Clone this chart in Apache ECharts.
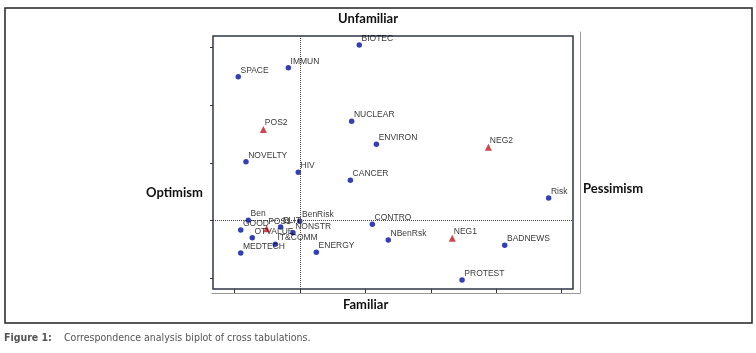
<!DOCTYPE html>
<html>
<head>
<meta charset="utf-8">
<script src="https://cdn.jsdelivr.net/npm/echarts@6/dist/echarts.min.js"></script>
<style>
html, body { margin: 0; padding: 0; background: #fff; }
#biplot { width: 756px; height: 353px; }
</style>
</head>
<body>
<div id="biplot"></div>
<script>
// column points (blue dots)
const blueNames = ['BIOTEC', 'IMMUN', 'SPACE', 'NUCLEAR', 'ENVIRON', 'CANCER', 'Risk', 'CONTRO',
  'NBenRsk', 'BADNEWS', 'PROTEST', 'NOVELTY', 'HIV', 'Ben', 'BenRisk', 'GOOD', 'ELIT',
  'OTVALUE', 'NONSTR', 'IT&COMM', 'MEDTECH', 'ENERGY']
const blueX = [0.453, -0.089, -0.472, 0.395, 0.584, 0.385, 1.901, 0.553,
  0.675, 1.565, 1.239, -0.413, -0.013, -0.395, -0.002, -0.453, -0.148,
  -0.365, -0.054, -0.189, -0.453, 0.125]
const blueY = [1.52, 1.324, 1.246, 0.86, 0.661, 0.349, 0.196, -0.031,
  -0.167, -0.213, -0.513, 0.51, 0.419, 0.003, -0.005, -0.08, -0.055,
  -0.147, -0.104, -0.204, -0.279, -0.273]

// row points (red triangles)
const redNames = ['POS2', 'NEG2', 'NEG1', 'POS1']
const redX = [-0.28, 1.44, 1.164, -0.255]
const redY = [0.79, 0.635, -0.152, -0.069]

const xTicks = [-0.5, 0, 0.5, 1, 1.5, 2]
const yTicks = [-0.5, 0, 0.5, 1, 1.5]

const chart = echarts.init(document.getElementById('biplot'))

const pointLabel = {
  show: true,
  formatter: '{b}',
  position: [5, -8],
  fontFamily: 'Liberation Sans, Arial, sans-serif',
  fontSize: 8.5,
  color: '#000'
}

chart.setOption({
  animation: false,
  backgroundColor: '#fff',
  grid: [
    {
      left: 213, right: 183, top: 36, bottom: 64,
      show: true, borderColor: '#2e3648', borderWidth: 1.5
    },
    {
      left: 212, right: 176, top: 32, bottom: 60
    }
  ],
  xAxis: [
    {
      type: 'value', gridIndex: 0, min: -0.665, max: 2.087,
      axisLine: { show: false, onZero: false },
      axisTick: { show: true, customValues: xTicks, length: 4, lineStyle: { color: '#333' } },
      axisLabel: { show: false },
      splitLine: { show: false }
    },
    {
      type: 'value', gridIndex: 1, min: 0, max: 1,
      axisLine: { show: true, onZero: false, lineStyle: { color: '#999', width: 1 } },
      axisTick: { show: false }, axisLabel: { show: false }, splitLine: { show: false }
    }
  ],
  yAxis: [
    {
      type: 'value', gridIndex: 0, min: -0.591, max: 1.598,
      axisLine: { show: false, onZero: false },
      axisTick: { show: true, customValues: yTicks, length: 3, lineStyle: { color: '#333' } },
      axisLabel: { show: false },
      splitLine: { show: false }
    },
    {
      type: 'value', gridIndex: 1, position: 'right', min: 0, max: 1,
      axisLine: { show: true, onZero: false, lineStyle: { color: '#999', width: 1 } },
      axisTick: { show: false }, axisLabel: { show: false }, splitLine: { show: false }
    }
  ],
  series: [
    {
      type: 'scatter',
      name: 'columns',
      symbol: 'circle',
      symbolSize: 5.5,
      itemStyle: { color: '#0010a0' },
      label: pointLabel,
      data: blueNames.map((n, i) => ({ name: n, value: [blueX[i], blueY[i]] })),
      markLine: {
        silent: true,
        symbol: ['none', 'none'],
        label: { show: false },
        lineStyle: { type: 'dotted', color: '#444', width: 1 },
        data: [{ xAxis: 0 }, { yAxis: 0 }]
      },
      z: 3
    },
    {
      type: 'scatter',
      name: 'rows',
      symbol: 'triangle',
      symbolSize: 7,
      itemStyle: { color: '#c8141c' },
      label: pointLabel,
      data: redNames.map((n, i) => ({ name: n, value: [redX[i], redY[i]] })),
      z: 3
    }
  ],
  graphic: [
    {
      type: 'rect',
      shape: { x: 5, y: 8, width: 747, height: 315 },
      style: { fill: 'none', stroke: '#222', lineWidth: 1.5 }
    },
    {
      type: 'text', left: 338, top: 12,
      style: { text: 'Unfamiliar', font: 'bold 13px Lato, "Open Sans", sans-serif', fill: '#111' }
    },
    {
      type: 'text', left: 343, top: 298,
      style: { text: 'Familiar', font: 'bold 13px Lato, "Open Sans", sans-serif', fill: '#111' }
    },
    {
      type: 'text', left: 146, top: 186,
      style: { text: 'Optimism', font: 'bold 13px Lato, "Open Sans", sans-serif', fill: '#111' }
    },
    {
      type: 'text', left: 583, top: 182,
      style: { text: 'Pessimism', font: 'bold 13px Lato, "Open Sans", sans-serif', fill: '#111' }
    },
    {
      type: 'text', left: 4, top: 333,
      style: { text: 'Figure 1:', font: 'bold 10.5px "Liberation Sans Narrow", "DejaVu Sans Condensed", sans-serif', fill: '#555' }
    },
    {
      type: 'text', left: 64, top: 333,
      style: { text: 'Correspondence analysis biplot of cross tabulations.', font: '10.5px "Liberation Sans Narrow", "DejaVu Sans Condensed", sans-serif', fill: '#555' }
    }
  ]
})
</script>
</body>
</html>
